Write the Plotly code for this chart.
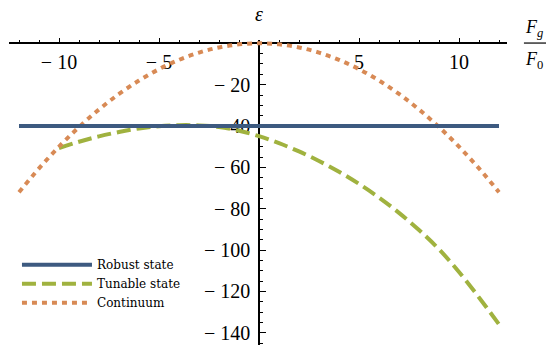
import plotly.graph_objects as go

# ---- data ----
x_full = [-12, -11, -10, -9, -8, -7, -6, -5, -4, -3, -2, -1, 0,
          1, 2, 3, 4, 5, 6, 7, 8, 9, 10, 11, 12]
robust = [-40] * 25
continuum = [-72, -60.5, -50, -40.5, -32, -24.5, -18, -12.5, -8, -4.5, -2, -0.5, 0,
             -0.5, -2, -4.5, -8, -12.5, -18, -24.5, -32, -40.5, -50, -60.5, -72]
x_tun = [-10, -9, -8, -7, -6, -5, -4, -3, -2, -1, 0,
         1, 2, 3, 4, 5, 6, 7, 8, 9, 10, 11, 12]
tunable = [-50.7, -47.6, -45.0, -42.9, -41.2, -40.1, -39.6, -39.7, -40.5, -42.3, -44.9,
           -48.3, -52.3, -56.9, -62.1, -68.0, -74.6, -82.0, -90.3, -99.6, -110.6, -122.9, -135.9]

x_ticks = [-10, -5, 5, 10]
x_labels = ["\u2212 10", "\u2212 5", "5", "10"]
y_ticks = [-20, -40, -60, -80, -100, -120, -140]
y_labels = ["\u2212 20", "\u2212 40", "\u2212 60", "\u2212 80", "\u2212 100", "\u2212 120", "\u2212 140"]

XR = [-12.5, 12.4]
YR = [-145.9, 1.6]

C_ROB = "#3D5A80"
C_TUN = "#A0B23F"
C_CON = "#D88A55"
FONT = "Liberation Serif, Times New Roman, serif"
LEG_FONT = "DejaVu Serif, Liberation Serif, serif"

fig = go.Figure()
fig.add_trace(go.Scatter(x=x_tun, y=tunable, mode="lines", name="Tunable state",
                         line=dict(color=C_TUN, width=4, dash="14px,6px", shape="spline"),
                         legendrank=2))
fig.add_trace(go.Scatter(x=x_full, y=continuum, mode="lines", name="Continuum",
                         line=dict(color=C_CON, width=4, dash="5px,5px", shape="spline"),
                         legendrank=3))
fig.add_trace(go.Scatter(x=x_full, y=robust, mode="lines", name="Robust state",
                         line=dict(color=C_ROB, width=4), legendrank=1))

xpos = (0 - YR[0]) / (YR[1] - YR[0])
ypos = (0 - XR[0]) / (XR[1] - XR[0])

fig.update_layout(
    width=546, height=342,
    margin=dict(l=1, r=47, t=32, b=5, autoexpand=False),
    paper_bgcolor="white", plot_bgcolor="white",
    font=dict(family=FONT, color="black"),
    xaxis=dict(range=XR, anchor="free", position=xpos, showgrid=False, zeroline=False,
               automargin=False,
               showline=True, linecolor="black", linewidth=1.6,
               tickmode="array", tickvals=x_ticks, ticktext=x_labels,
               ticks="inside", ticklen=5, tickwidth=1.3, tickcolor="black",
               minor=dict(dtick=1, tick0=0, ticks="inside", ticklen=3, tickwidth=1.2,
                          tickcolor="black", showgrid=False),
               tickfont=dict(family=FONT, size=20, color="black"),
               ticklabelstandoff=1, layer="below traces"),
    yaxis=dict(range=YR, anchor="free", position=ypos, showgrid=False, zeroline=False,
               automargin=False,
               showline=True, linecolor="black", linewidth=1.6,
               tickmode="array", tickvals=y_ticks, ticktext=y_labels,
               ticks="inside", ticklen=6, tickwidth=1.3, tickcolor="black",
               minor=dict(dtick=5, tick0=0, ticks="inside", ticklen=3, tickwidth=1.2,
                          tickcolor="black", showgrid=False),
               tickfont=dict(family=FONT, size=20, color="black"),
               ticklabelstandoff=4, layer="below traces"),
    legend=dict(x=0.016, y=0.311, xanchor="left", yanchor="top",
                bgcolor="rgba(0,0,0,0)", font=dict(family=LEG_FONT, size=12, color="black"),
                itemwidth=70, tracegroupgap=0),
    showlegend=True,
)

fig.add_annotation(x=0, xref="x", y=1.085, yref="paper", text="<i>\u03b5</i>",
                   xanchor="center", yanchor="middle",
                   showarrow=False, font=dict(family=FONT, size=20, color="black"))
fig.add_annotation(x=1.055, xref="paper", y=1.039, yref="paper",
                   xanchor="center", yanchor="middle",
                   text="<i>F</i><sub><i>g</i></sub>", showarrow=False,
                   font=dict(family=FONT, size=18, color="black"))
fig.add_annotation(x=1.055, xref="paper", y=0.933, yref="paper",
                   xanchor="center", yanchor="middle",
                   text="<i>F</i><sub>0</sub>", showarrow=False,
                   font=dict(family=FONT, size=18, color="black"))
fig.add_shape(type="line", xref="paper", yref="paper", x0=1.034, x1=1.092,
              y0=0.99, y1=0.99, line=dict(color="black", width=1.2))

fig.write_html("out.html")
